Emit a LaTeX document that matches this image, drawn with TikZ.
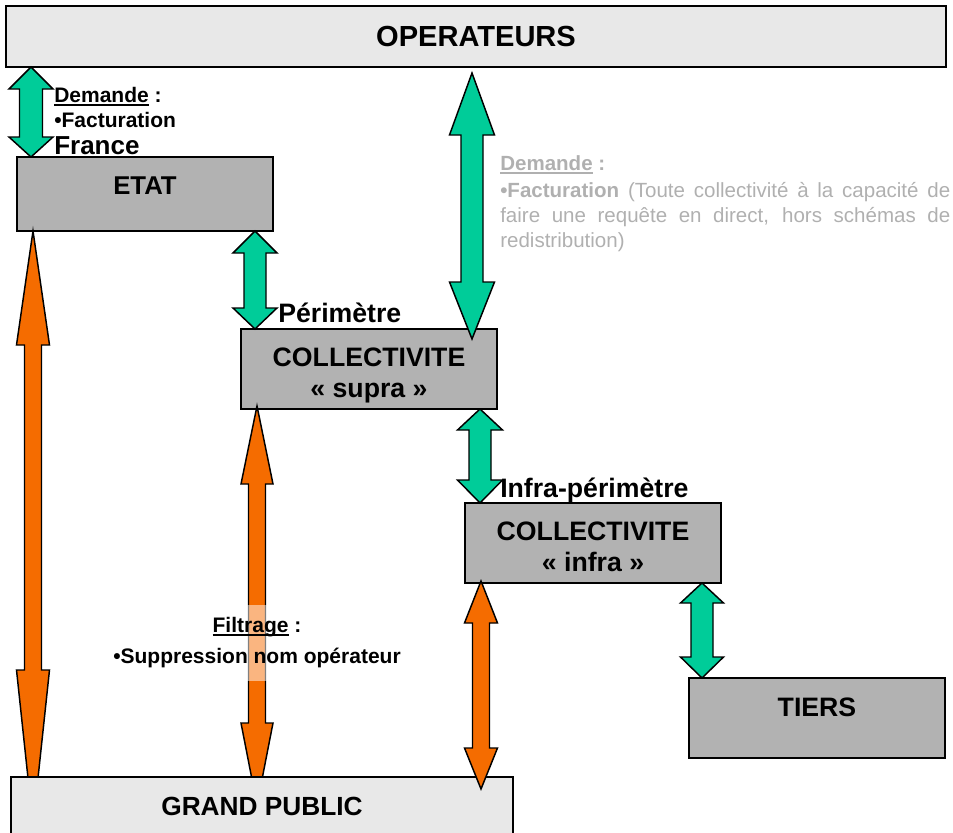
\documentclass[tikz,border=0pt]{standalone}
\usepackage{fontspec}
\setmainfont{Liberation Sans}
\usetikzlibrary{calc}

\definecolor{flowgreen}{RGB}{0,204,153}
\definecolor{floworange}{RGB}{245,108,0}
\definecolor{boxgrey}{RGB}{178,178,178}
\definecolor{boxlight}{RGB}{232,232,232}
\definecolor{notegrey}{RGB}{176,176,176}

% underline with a firm rule
\newcommand\thickul[1]{\setbox0\hbox{#1}\rlap{\rule[-2.6pt]{\wd0}{1.1pt}}\box0\relax}
% one line whose baseline sits at the box centre, raised by #1
\newcommand\oneline[2]{\raisebox{#1}[0pt][0pt]{#2}}
% two centred lines, the last baseline lowered below the box centre
\newcommand\twolines[2]{\raisebox{-21.4pt}[0pt][0pt]{\begin{tabular}[b]{@{}c@{}}#1\\#2\end{tabular}}}

% block double arrow: style, top tip, bottom tip, shaft half-width,
% head half-width, top head length, bottom head length
\newcommand\bidir[7]{%
  \path[#1] (#2) -- ($(#2)+(#5,#6)$) -- ($(#2)+(#4,#6)$)
    -- ($(#3)+(#4,-#7)$) -- ($(#3)+(#5,-#7)$) -- (#3)
    -- ($(#3)+(-#5,-#7)$) -- ($(#3)+(-#4,-#7)$)
    -- ($(#2)+(-#4,#6)$) -- ($(#2)+(-#5,#6)$) -- cycle;}

\tikzset{
  box/.style={draw=black, line width=1.1pt, fill=boxgrey, anchor=north west,
    inner sep=0pt, outer sep=0pt, minimum width=192pt, minimum height=60pt,
    align=center, font=\bfseries\fontsize{20}{23}\selectfont},
  lightbox/.style={box, fill=boxlight},
  greenflow/.style={draw=black, line width=1.1pt, fill=flowgreen, line join=miter},
  orangeflow/.style={draw=black, line width=1.1pt, fill=floworange, line join=miter},
  smalltext/.style={inner sep=0pt, align=left, font=\bfseries\fontsize{15.75}{18.75}\selectfont},
  tag/.style={inner sep=0pt, anchor=base west, font=\bfseries\fontsize{20}{22}\selectfont},
}

\begin{document}
\begin{tikzpicture}[x=0.75pt, y=-0.75pt]
\useasboundingbox (0,0) rectangle (953,832);

% boxes
\node[lightbox, minimum width=705pt, minimum height=45.75pt,
      font=\bfseries\fontsize{21.8}{25}\selectfont] (ops) at (6,6) {OPERATEURS};
\node[box, minimum height=55.5pt, font=\bfseries\fontsize{19.3}{23}\selectfont] (etat) at (17,157) {\oneline{0pt}{ETAT}};
\node[box] (supra) at (241,329) {\twolines{COLLECTIVITE}{« supra »}};
\node[box] (infra) at (465,503) {\twolines{COLLECTIVITE}{« infra »}};
\node[box] (tiers) at (689,678) {\oneline{1.1pt}{TIERS}};
\coordinate (gpnw) at (11,777);

% green exchanges
\bidir{greenflow}{ops.south -| 31,0}{etat.north -| 31,0}{11.5}{22}{22}{20}
\bidir{greenflow}{etat.south -| 255,0}{supra.north -| 255,0}{11}{22}{22}{21}
\coordinate (g3t) at ($(ops.south -| 472,0)+(0,6)$);
\coordinate (g3b) at ($(supra.north -| 472,0)+(0,10)$);
\bidir{greenflow}{g3t}{g3b}{11}{22.5}{62}{57}
\bidir{greenflow}{supra.south -| 480,0}{infra.north -| 480,0}{11}{22.5}{21}{23}
\bidir{greenflow}{infra.south -| 702,0}{tiers.north -| 702,0}{11}{21.5}{20}{21}

% orange flows to the public (lower tips pass under the public box)
\coordinate (o1b) at ($(gpnw -| 33,0)+(0,48)$);
\bidir{orangeflow}{etat.south -| 33,0}{o1b}{8.5}{16.5}{114}{155}
\coordinate (o2t) at ($(supra.south -| 257,0)+(0,-3)$);
\coordinate (o2b) at ($(gpnw -| 257,0)+(0,28)$);
\bidir{orangeflow}{o2t}{o2b}{8.5}{16}{78}{82}

\node[lightbox, minimum width=376.5pt, minimum height=43.5pt,
      font=\bfseries\fontsize{19.7}{23}\selectfont] (gp) at (gpnw) {GRAND PUBLIC};

\coordinate (o3t) at ($(infra.south -| 481,0)+(0,-2)$);
\coordinate (o3b) at ($(gp.north -| 481,0)+(0,12)$);
\bidir{orangeflow}{o3t}{o3b}{8.5}{16.5}{42}{41}

% labels
\node[smalltext, anchor=north west] (demfr) at (54,87)
  {\thickul{Demande} :\\•Facturation\\[1.5pt]{\fontsize{19.5}{20}\selectfont France}};
\node[tag] (perim) at (278,322) {Périmètre};
\node[tag] (infraperim) at (500,497) {Infra-périmètre};
\node[inner sep=0pt, anchor=north west, text width=337.5pt, align=justify,
      text=notegrey, font=\fontsize{15.4}{18.75}\selectfont] (demdir) at (500,155)
  {{\bfseries\thickul{Demande} :}\\[1.5pt]{\bfseries •Facturation} (Toute collectivité à la capacité de\linebreak
   faire une requête en direct, hors schémas de\linebreak redistribution)};
\node[font=\bfseries\fontsize{15.75}{18.75}\selectfont, align=center,
      fill=white, fill opacity=0.5, text opacity=1, inner xsep=2pt, inner ysep=0pt,
      minimum height=57pt] (filt) at (257,642.5)
  {\thickul{Filtrage} :\\[4.5pt]•Suppression nom opérateur};
\end{tikzpicture}
\end{document}
